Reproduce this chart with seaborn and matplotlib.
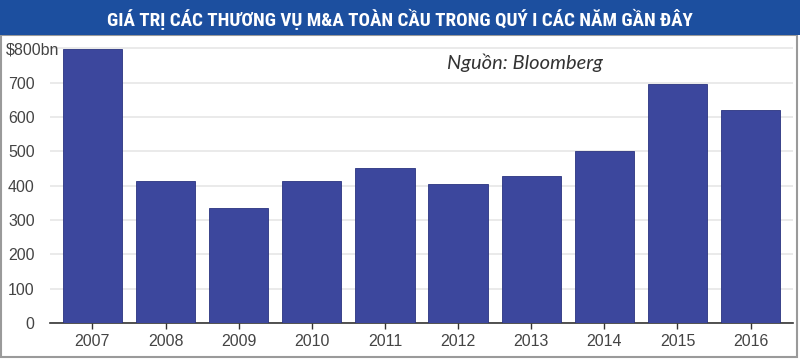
import matplotlib
matplotlib.use('Agg')
import matplotlib.pyplot as plt
import matplotlib.transforms as mtransforms
from matplotlib.patches import Rectangle
import seaborn as sns
import pandas as pd

years = ['2007', '2008', '2009', '2010', '2011', '2012', '2013', '2014', '2015', '2016']
deal_value = [797, 413, 334, 415, 453, 404, 427, 501, 697, 621]
y_ticks = [0, 100, 200, 300, 400, 500, 600, 700, 800]
y_tick_labels = ['0', '100', '200', '300', '400', '500', '600', '700', '$800bn']

TITLE = 'GIÁ TRỊ CÁC THƯƠNG VỤ M&A TOÀN CẦU TRONG QUÝ I CÁC NĂM GẦN ĐÂY'
SOURCE = 'Nguồn: Bloomberg'

BAR_COLOR = '#3c479d'
BANNER_COLOR = '#1c4f9f'
TEXT_COLOR = '#444444'

sns.set_theme(style='white')
plt.rcParams['font.family'] = ['Liberation Sans', 'DejaVu Sans']

df = pd.DataFrame({'year': years, 'value': deal_value})

W, H = 800, 359
fig = plt.figure(figsize=(W / 100, H / 100), dpi=100)
ax = fig.add_axes([50 / W, 1 - 323 / H, (793 - 50) / W, (323 - 45) / H])

sns.barplot(data=df, x='year', y='value', color=BAR_COLOR, saturation=1,
            width=0.81, edgecolor='#2a3380', linewidth=0.6, ax=ax, zorder=3)

ax.set_xlim(-0.58, 9.58)
ax.set_ylim(0, 810)
ax.set_yticks(y_ticks)
ax.set_yticklabels(y_tick_labels)
ax.set_xlabel('')
ax.set_ylabel('')

ax.grid(axis='y', color='#e6e6e6', linewidth=1.2, zorder=0)
ax.set_axisbelow(True)
for side in ['left', 'right', 'top']:
    ax.spines[side].set_visible(False)
ax.spines['bottom'].set_color('#333333')
ax.spines['bottom'].set_linewidth(1.2)

ax.tick_params(axis='x', bottom=True, length=4, width=1, color='#333333',
               labelsize=11.5, labelcolor=TEXT_COLOR, pad=4)
ax.tick_params(axis='y', left=False, labelsize=11.5, labelcolor=TEXT_COLOR, pad=5)

# the top label sits left-aligned against the box edge
top_label = ax.get_yticklabels()[-1]
top_label.set_horizontalalignment('left')
top_label.set_transform(top_label.get_transform() +
                        mtransforms.ScaledTranslation(-29 / 100, 0, fig.dpi_scale_trans))

ax.text(447 / W, 1 - 63 / H, SOURCE, transform=fig.transFigure,
        fontsize=14.5, style='italic', color='#333333', va='center', ha='left',
        family=['Lato', 'Open Sans', 'DejaVu Sans'])

# frame and title banner
fig.patches.append(Rectangle((1 / W, 2 / H), (797 - 1) / W, (357 - 35) / H,
                             transform=fig.transFigure, fill=False,
                             edgecolor='#9a9a9a', linewidth=1.5))
fig.patches.append(Rectangle((0, 1 - 35 / H), 1, 35 / H,
                             transform=fig.transFigure, facecolor=BANNER_COLOR,
                             edgecolor='none'))
title = fig.text(0.5, 1 - 19 / H, TITLE, color='white', fontsize=15, fontweight='bold',
                 ha='center', va='center', fontstretch='condensed',
                 family=['Roboto Condensed', 'Liberation Sans Narrow', 'Roboto', 'DejaVu Sans'])

# shrink the title so it spans the same width as the original banner text
renderer = fig.canvas.get_renderer()
width_px = title.get_window_extent(renderer).width
if width_px > 590:
    title.set_fontsize(15 * 590 / width_px)

fig.savefig('out.png', dpi=100)
